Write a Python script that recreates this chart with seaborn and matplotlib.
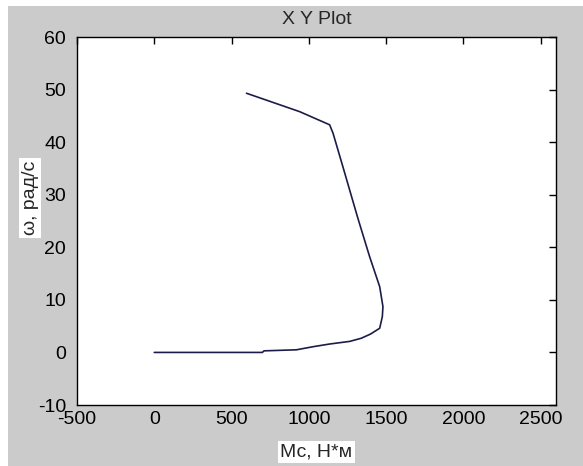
import matplotlib
matplotlib.use('Agg')
import matplotlib.pyplot as plt
import matplotlib.patches as patches
import seaborn as sns

# curve points (Mc, N*m vs omega, rad/s)
moment = [0, 700, 710, 920, 1030, 1135, 1265, 1340, 1400, 1459, 1476, 1480,
          1459, 1394, 1318, 1221, 1157, 1135, 941, 597]
omega = [0, 0, 0.3, 0.5, 1.1, 1.6, 2.1, 2.7, 3.5, 4.6, 6.8, 8.7,
         12.5, 18.2, 25.5, 35.3, 41.7, 43.3, 45.8, 49.3]

x_ticks = [-500, 0, 500, 1000, 1500, 2000, 2500]
y_ticks = [-10, 0, 10, 20, 30, 40, 50, 60]

sns.set_style('white')
plt.rcParams['font.family'] = ['Liberation Sans', 'DejaVu Sans']
plt.rcParams['axes.unicode_minus'] = False

fig = plt.figure(figsize=(5.83, 4.66), dpi=100, facecolor='white')
# grey matlab-like figure background with thin white strip top/left
fig.patches.append(patches.Rectangle((8 / 583, 0), 1, 1 - 6 / 466, transform=fig.transFigure,
                                     facecolor='#cbcbcb', edgecolor='none', zorder=-10))

ax = fig.add_axes([77 / 583, 61 / 466, 479 / 583, 368 / 466])
ax.set_facecolor('white')

sns.lineplot(x=moment, y=omega, sort=False, estimator=None, ax=ax,
             color='#1c1c48', linewidth=1.2)

ax.set_xlim(-500, 2600)
ax.set_ylim(-10, 60)
ax.set_xticks(x_ticks)
ax.set_yticks(y_ticks)
ax.tick_params(direction='in', length=5, width=1, top=True, right=True,
               labelsize=14, colors='black')
ax.tick_params(axis='y', pad=8)
ax.tick_params(axis='x', pad=4)
for s in ax.spines.values():
    s.set_visible(True)
    s.set_color('black')
    s.set_linewidth(1.0)

ax.set_title('X Y Plot', fontsize=14, pad=9)
ax.set_xlabel('Мс, Н*м', fontsize=14,
              bbox=dict(facecolor='white', edgecolor='none', pad=2))
ax.set_ylabel('ω, рад/с', fontsize=14,
              bbox=dict(facecolor='white', edgecolor='none', pad=2))
ax.xaxis.set_label_coords(0.5, -0.104)
ax.yaxis.set_label_coords(-0.08, 0.5625)

plt.savefig('out.png', dpi=100, facecolor=fig.get_facecolor())
plt.close('all')
